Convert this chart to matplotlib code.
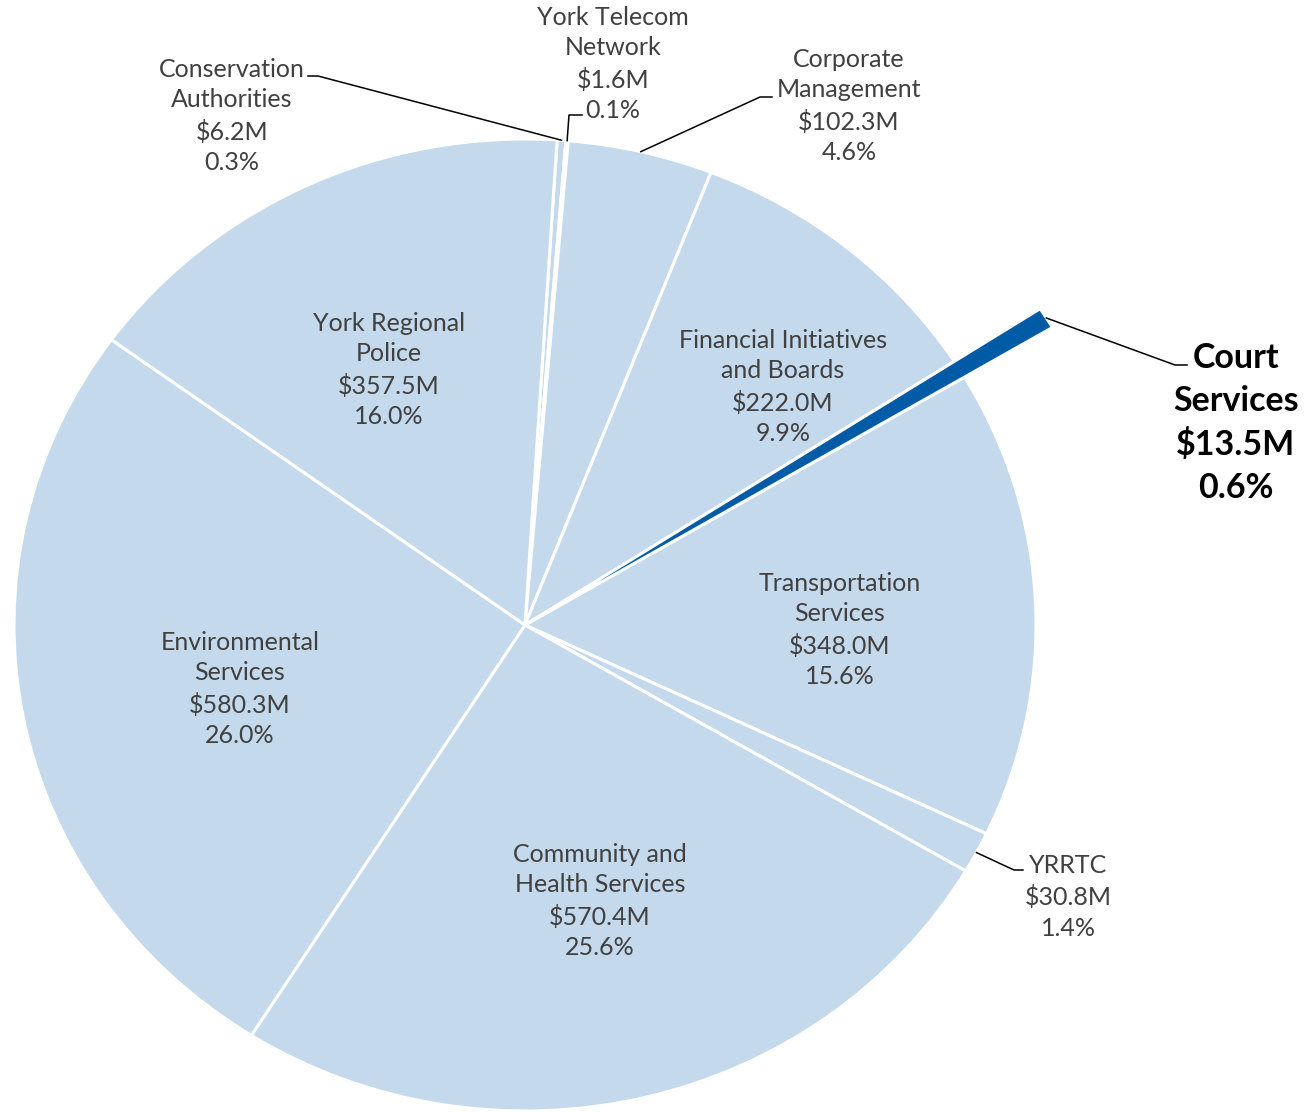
import numpy as np
import matplotlib.pyplot as plt

# clockwise from the top
names = [
    "Conservation\nAuthorities", "York Telecom\nNetwork", "Corporate\nManagement",
    "Financial Initiatives\nand Boards", "Court\nServices", "Transportation\nServices",
    "YRRTC", "Community and\nHealth Services", "Environmental\nServices",
    "York Regional\nPolice",
]
amounts = [6.2, 1.6, 102.3, 222.0, 13.5, 348.0, 30.8, 570.4, 580.3, 357.5]
shares = [0.3, 0.1, 4.6, 9.9, 0.6, 15.6, 1.4, 25.6, 26.0, 16.0]
highlight = "Court\nServices"

# label block centres in pixels (x, y from top), taken off the layout
label_px = [
    (232, 116), (613, 64), (849, 106), (783, 387), (1236, 423),
    (840, 630), (1068, 897), (600, 901), (240, 689), (389, 370),
]
# which labels get a leader line, and where the line bends (pixels)
leader_bend = {
    0: [(318, 76), (308, 76)],
    1: [(569, 115), (582, 115)],
    2: [(760, 97), (772, 97)],
    4: [(1175, 365), (1187, 365)],
    6: [(1014, 870), (1023, 870)],
}

W, H = 1304, 1112
CX, CY, RX, RY = 525, 625, 511, 486
LIGHT = "#C4D9EC"
DARK = "#005BA6"
GREY = "#404040"


def to_data(px, py):
    return (px - CX) / RX, (CY - py) / RY


fig = plt.figure(figsize=(W / 100, H / 100), dpi=100)
ax = fig.add_axes([0, 0, 1, 1])

colors = [DARK if n == highlight else LIGHT for n in names]
wedges, _ = ax.pie(
    amounts, colors=colors, startangle=86.4, counterclock=False,
    wedgeprops=dict(edgecolor="white", linewidth=2.2),
)
court = names.index(highlight)
wedges[court].set_radius(1.2)
wedges[court].set_zorder(3)

ax.set_aspect("auto")
ax.set_xlim(-CX / RX, (W - CX) / RX)
ax.set_ylim(-(H - CY) / RY, CY / RY)
ax.axis("off")

for i, (name, amt, pct) in enumerate(zip(names, amounts, shares)):
    text = f"{name}\n${amt:.1f}M\n{pct:.1f}%"
    x, y = to_data(*label_px[i])
    if name == highlight:
        ax.text(x, y, text, ha="center", va="center", fontsize=24.5, fontweight="bold",
                color="black", family=["Lato", "DejaVu Sans"], linespacing=1.43)
    else:
        ax.text(x, y, text, ha="center", va="center", fontsize=18, color=GREY,
                family=["Lato", "DejaVu Sans"], linespacing=1.41)
    if i in leader_bend:
        w = wedges[i]
        mid = np.deg2rad((w.theta1 + w.theta2) / 2)
        r = w.r
        pts = [(r * np.cos(mid), r * np.sin(mid))] + [to_data(*p) for p in leader_bend[i]]
        xs, ys = zip(*pts)
        ax.plot(xs, ys, color="black", linewidth=1.1, zorder=4)

fig.savefig("out.png", dpi=100)
